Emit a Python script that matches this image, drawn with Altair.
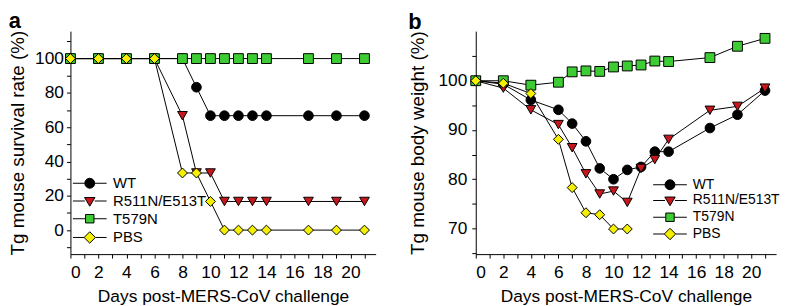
import altair as alt
import pandas as pd

FONT = "Liberation Sans"

groups = ["WT", "R511N/E513T", "T579N", "PBS"]
fills = ["#000000", "#c8161d", "#3dcc33", "#f5f000"]
strokes = ["#000000", "#000000", "#000000", "#000000"]
plot_shapes = ["circle", "triangle-down", "square", "diamond"]
plot_sizes = [95, 100, 72, 120]
legend_paths = [
    "M-3.4,0H-1M1,0H3.4M-1,0A1,1 0 1,0 1,0A1,1 0 1,0 -1,0Z",
    "M-3.4,0H-1M1,0H3.4M-1.05,-0.7L1.05,-0.7L0,1.05Z",
    "M-3.4,0H-0.85M0.85,0H3.4M-0.85,-0.85H0.85V0.85H-0.85Z",
    "M-3.4,0H-1.15M1.15,0H3.4M-1.15,0L0,-1.15L1.15,0L0,1.15Z",
]

# Panel a: survival
days_a = [0, 2, 4, 6, 8, 9, 10, 11, 12, 13, 14, 17, 19, 21]
surv_wt = [100, 100, 100, 100, 100, 83.3, 66.7, 66.7, 66.7, 66.7, 66.7, 66.7, 66.7, 66.7]
surv_r511 = [100, 100, 100, 100, 66.7, 33.3, 33.3, 16.7, 16.7, 16.7, 16.7, 16.7, 16.7, 16.7]
surv_t579 = [100, 100, 100, 100, 100, 100, 100, 100, 100, 100, 100, 100, 100, 100]
surv_pbs = [100, 100, 100, 100, 33.3, 33.3, 16.7, 0, 0, 0, 0, 0, 0, 0]

# Panel b: body weight
days_b = [0, 2, 4, 6, 7, 8, 9, 10, 11, 12, 13, 14, 17, 19, 21]
wt_b = [100, 99.3, 96.1, 94.1, 91.3, 87.7, 82.2, 80.0, 81.9, 82.5, 85.6, 85.6, 90.4, 93.1, 98.0]
r511_b = [100, 98.5, 94.1, 91.1, 86.4, 81.1, 77.0, 77.6, 75.3, 82.2, 84.0, 88.1, 94.0, 94.8, 98.5]
t579_b = [100, 100, 99.1, 99.7, 101.8, 102.0, 101.9, 102.8, 103.0, 103.2, 104.0, 103.9, 104.7, 107.0, 108.6]
days_pbs_b = [0, 2, 4, 6, 7, 8, 9, 10, 11]
pbs_b = [100, 99.5, 97.4, 88.1, 78.3, 73.2, 72.8, 69.9, 69.9]


def frame(series):
    rows = []
    for gi, (g, days, vals) in enumerate(series):
        for d, v in zip(days, vals):
            rows.append({"group": g, "gi": gi, "day": d, "value": v})
    return pd.DataFrame(rows)


df_a = frame([
    ("WT", days_a, surv_wt),
    ("R511N/E513T", days_a, surv_r511),
    ("T579N", days_a, surv_t579),
    ("PBS", days_a, surv_pbs),
])
df_b = frame([
    ("WT", days_b, wt_b),
    ("R511N/E513T", days_b, r511_b),
    ("T579N", days_b, t579_b),
    ("PBS", days_pbs_b, pbs_b),
])


def panel(df, ydomain, yvalues, ylabel_expr, ytitle, width, height,
          legend_x, legend_y, legend_font, label, y_title_pad, y_label_pad):
    base = alt.Chart(df)
    x = alt.X("day:Q",
              scale=alt.Scale(domain=[0, 21.8], nice=False, zero=False),
              axis=alt.Axis(values=list(range(0, 22)),
                            labelExpr="datum.value % 2 == 0 ? datum.label : ''",
                            title="Days post-MERS-CoV challenge",
                            titlePadding=6, labelPadding=6, titleFontSize=17.5))
    y = alt.Y("value:Q",
              scale=alt.Scale(domain=ydomain, nice=False, zero=False),
              axis=alt.Axis(values=yvalues, labelExpr=ylabel_expr,
                            title=ytitle, titlePadding=y_title_pad,
                            labelPadding=y_label_pad, titleFontSize=19))
    lines = base.mark_line(color="black", strokeWidth=1).encode(
        x=x, y=y, detail="group:N", order="day:Q")
    pts = base.mark_point(filled=True, opacity=1).encode(
        x=x, y=y,
        shape=alt.Shape("group:N", scale=alt.Scale(domain=groups, range=plot_shapes), legend=None),
        fill=alt.Fill("group:N", scale=alt.Scale(domain=groups, range=fills), legend=None),
        size=alt.Size("group:N", scale=alt.Scale(domain=groups, range=plot_sizes), legend=None),
        stroke=alt.value("black"),
        strokeWidth=alt.value(1),
        order="gi:Q")
    leg_props = dict(title=None, orient="none", legendX=legend_x, legendY=legend_y,
                     padding=0, symbolSize=100, labelOffset=16, rowPadding=1.9,
                     labelFontSize=legend_font, labelFont=FONT, labelColor="black",
                     symbolStrokeWidth=1, labelLimit=200)
    leg = base.transform_filter("false").mark_point(
        filled=True, opacity=1).encode(
        shape=alt.Shape("group:N", scale=alt.Scale(domain=groups, range=legend_paths),
                        legend=alt.Legend(**leg_props)),
        fill=alt.Fill("group:N", scale=alt.Scale(domain=groups, range=fills),
                      legend=alt.Legend(**leg_props)),
        stroke=alt.Stroke("group:N", scale=alt.Scale(domain=groups, range=strokes),
                          legend=alt.Legend(**leg_props)),
    )
    return alt.layer(lines, pts, leg).resolve_scale(
        shape="independent", fill="independent", stroke="independent"
    ).properties(
        width=width, height=height,
        title=alt.TitleParams(text=label, anchor="start", fontSize=22,
                              fontWeight="bold", font=FONT, color="black",
                              baseline="top", offset=-3),
    )


panel_a = panel(df_a, [-14, 116], list(range(-10, 111, 10)),
                "datum.value >= 0 && datum.value <= 100 && datum.value % 20 == 0 ? datum.label : ''",
                "Tg mouse survival rate (%)", 308, 225, 12, 146, 15, "a", 7, 3)
panel_b = panel(df_b, [64.8, 110.07], list(range(65, 106, 5)),
                "datum.value % 10 == 0 ? datum.label : ''",
                "Tg mouse body weight (%)", 303, 225, 189, 148, 14, "b", 11, 5)

chart = alt.hconcat(panel_a, panel_b, spacing=32).properties(
    padding={"left": 0, "top": 0, "right": 0, "bottom": 0}
).configure_axis(
    grid=False, domainColor="black", tickColor="black", labelColor="black",
    titleColor="black", labelFont=FONT, titleFont=FONT, labelFontSize=17.5,
    titleFontSize=18, titleFontWeight="normal", tickSize=4, domainWidth=1,
    tickWidth=1,
).configure_view(stroke=None)

chart.save("out.html", embed_options={"renderer": "svg", "actions": False})
